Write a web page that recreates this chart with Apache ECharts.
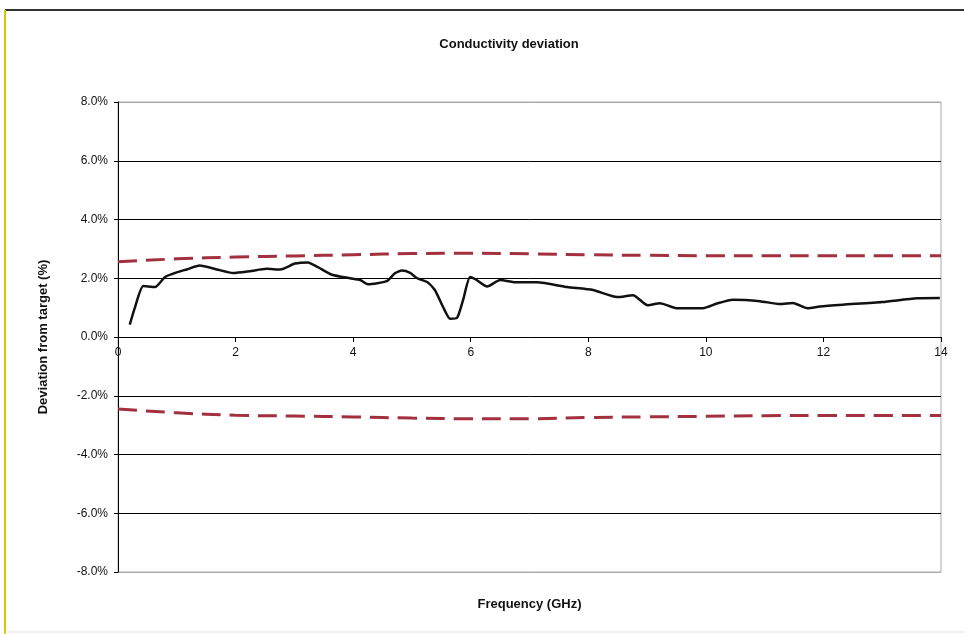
<!DOCTYPE html>
<html>
<head>
<meta charset="utf-8">
<script src="https://cdn.jsdelivr.net/npm/echarts@6/dist/echarts.min.js"></script>
<style>
  html, body { margin: 0; padding: 0; background: #fff; }
  #chart { width: 964px; height: 634px; }
</style>
</head>
<body>
<div id="chart"></div>
<script>
// measured deviation (frequency GHz, deviation %)
const freq = [0.2, 0.29, 0.43, 0.63, 0.8, 1.0, 1.17, 1.39, 1.68, 1.96, 2.24, 2.53, 2.76, 3.01, 3.23, 3.4, 3.64, 3.95, 4.12, 4.25, 4.57, 4.71, 4.83, 4.97, 5.09, 5.26, 5.39, 5.53, 5.65, 5.77, 5.87, 5.99, 6.1, 6.28, 6.5, 6.79, 7.13, 7.64, 8.08, 8.49, 8.76, 9.01, 9.22, 9.5, 9.95, 10.19, 10.46, 10.92, 11.26, 11.48, 11.73, 11.94, 12.33, 13.0, 13.59, 13.98];
const deviation = [0.42, 1.02, 1.74, 1.7, 2.04, 2.2, 2.3, 2.43, 2.3, 2.18, 2.24, 2.32, 2.3, 2.5, 2.54, 2.38, 2.12, 2.0, 1.94, 1.8, 1.9, 2.17, 2.26, 2.18, 2.0, 1.87, 1.6, 1.02, 0.62, 0.66, 1.26, 2.04, 1.94, 1.72, 1.94, 1.86, 1.86, 1.7, 1.6, 1.36, 1.42, 1.08, 1.15, 0.98, 0.98, 1.14, 1.27, 1.22, 1.12, 1.16, 0.98, 1.04, 1.1, 1.19, 1.32, 1.33];

// target tolerance limits
const limitFreq = [0, 1, 2, 3, 4, 5, 6, 7, 8, 9, 10, 11, 12, 13, 14];
const upperLimit = [2.56, 2.66, 2.72, 2.76, 2.8, 2.84, 2.85, 2.83, 2.8, 2.78, 2.77, 2.77, 2.77, 2.77, 2.77];
const lowerLimit = [-2.45, -2.58, -2.66, -2.69, -2.72, -2.76, -2.78, -2.78, -2.74, -2.72, -2.7, -2.68, -2.67, -2.67, -2.67];

const yTicks = [-8, -6, -4, -2, 0, 2, 4, 6, 8];

const zip = (xs, ys) => xs.map((x, i) => [x, ys[i]]);

const chart = echarts.init(document.getElementById("chart"));

chart.setOption({
  animation: false,
  backgroundColor: "#fff",
  textStyle: { fontFamily: "Liberation Sans, Arial, sans-serif" },
  title: {
    text: "Conductivity deviation",
    left: 504,
    top: 33,
    textAlign: "center",
    textStyle: { fontSize: 13, fontWeight: "bold", color: "#111" }
  },
  graphic: [
    { type: "line", shape: { x1: 5, y1: 10, x2: 964, y2: 10 }, style: { stroke: "#333", lineWidth: 2 } },
    { type: "line", shape: { x1: 5, y1: 10, x2: 5, y2: 634 }, style: { stroke: "#d8c800", lineWidth: 2 } },
    { type: "line", shape: { x1: 5, y1: 632, x2: 964, y2: 632 }, style: { stroke: "#ddd", lineWidth: 1 } }
  ],
  grid: {
    left: 118,
    right: 23,
    top: 102,
    bottom: 62,
    outerBoundsMode: "none",
    containLabel: false,
    show: true,
    borderColor: "#aaa",
    borderWidth: 1
  },
  xAxis: {
    type: "value",
    min: 0,
    max: 14,
    interval: 2,
    position: "bottom",
    offset: -235,
    name: "Frequency (GHz)",
    nameLocation: "middle",
    nameGap: 261,
    nameTextStyle: { fontSize: 13, fontWeight: "bold", color: "#111" },
    axisLine: { onZero: false, lineStyle: { color: "#000", width: 1 } },
    axisTick: { show: true, length: 5, lineStyle: { color: "#000" } },
    axisLabel: { fontSize: 12, color: "#111", margin: 10 },
    splitLine: { show: false }
  },
  yAxis: {
    type: "value",
    min: -8,
    max: 8,
    interval: 2,
    name: "Deviation from target (%)",
    nameLocation: "middle",
    nameGap: 68,
    nameTextStyle: { fontSize: 13, fontWeight: "bold", color: "#111" },
    axisLine: { show: true, lineStyle: { color: "#000", width: 1 } },
    axisTick: { show: true, length: 4, lineStyle: { color: "#000" } },
    axisLabel: { fontSize: 12, color: "#111", margin: 10, formatter: v => v.toFixed(1) + "%" },
    splitLine: {
      show: true,
      lineStyle: {
        color: yTicks.map(v => (Math.abs(v) === 8 ? "#aaa" : "#000")),
        width: 1
      }
    }
  },
  series: [
    {
      name: "Upper limit",
      type: "line",
      data: zip(limitFreq, upperLimit),
      smooth: true,
      showSymbol: false,
      lineStyle: { color: "#a3303e", width: 3, type: [19, 9] },
      z: 3
    },
    {
      name: "Lower limit",
      type: "line",
      data: zip(limitFreq, lowerLimit),
      smooth: true,
      showSymbol: false,
      lineStyle: { color: "#a3303e", width: 3, type: [19, 9] },
      z: 3
    },
    {
      name: "Deviation",
      type: "line",
      data: zip(freq, deviation),
      smooth: 0.2,
      showSymbol: false,
      lineStyle: { color: "#111", width: 2.5 },
      z: 4
    }
  ]
});
</script>
</body>
</html>
